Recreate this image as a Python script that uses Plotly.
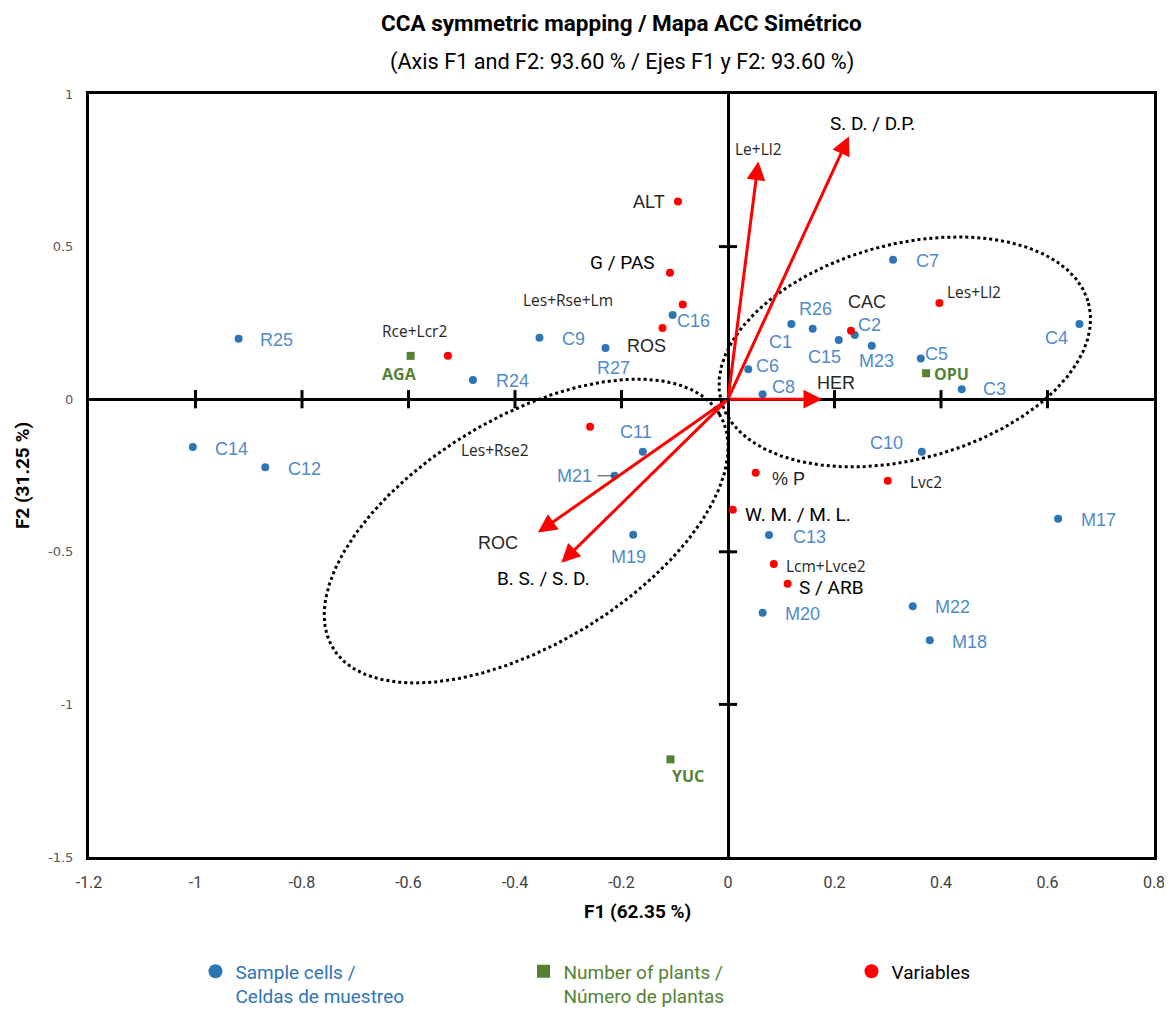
import numpy as np
import plotly.graph_objects as go

# ---------------- data ----------------
cell_names = ["R25", "C9", "R27", "R24", "C16", "C1", "R26", "C15", "C2", "M23", "C7", "C5", "C4", "C3",
              "C6", "C8", "C10", "C11", "M21", "M19", "C14", "C12", "C13", "M20", "M22", "M18", "M17"]
cell_f1 = [-0.919, -0.354, -0.230, -0.479, -0.104, 0.119, 0.159, 0.208, 0.238, 0.270, 0.310, 0.362, 0.660, 0.439,
           0.038, 0.065, 0.364, -0.160, -0.213, -0.178, -1.005, -0.869, 0.077, 0.065, 0.347, 0.379, 0.620]
cell_f2 = [0.198, 0.201, 0.168, 0.063, 0.276, 0.246, 0.231, 0.194, 0.210, 0.175, 0.457, 0.133, 0.246, 0.033,
           0.098, 0.016, -0.172, -0.172, -0.251, -0.444, -0.157, -0.223, -0.445, -0.700, -0.678, -0.790, -0.392]

plant_names = ["AGA", "OPU", "YUC"]
plant_f1 = [-0.596, 0.372, -0.108]
plant_f2 = [0.142, 0.085, -1.180]

var_names = ["ALT", "G / PAS", "Les+Rse+Lm", "ROS", "Rce+Lcr2", "Les+Rse2", "CAC", "Les+Ll2",
             "% P", "Lvc2", "W. M. / M. L.", "Lcm+Lvce2", "S / ARB"]
var_f1 = [-0.094, -0.109, -0.085, -0.123, -0.526, -0.259, 0.231, 0.397, 0.052, 0.300, 0.009, 0.086, 0.112]
var_f2 = [0.648, 0.414, 0.310, 0.233, 0.142, -0.090, 0.224, 0.315, -0.241, -0.267, -0.362, -0.540, -0.605]

arrow_names = ["Le+Ll2", "S. D. / D.P.", "HER", "ROC", "B. S. / S. D."]
arrow_f1 = [0.057, 0.227, 0.177, -0.357, -0.313]
arrow_f2 = [0.779, 0.861, 0.0, -0.437, -0.536]

x_ticks = [-1.2, -1.0, -0.8, -0.6, -0.4, -0.2, 0.0, 0.2, 0.4, 0.6, 0.8]
x_tick_text = ["-1.2", "-1", "-0.8", "-0.6", "-0.4", "-0.2", "0", "0.2", "0.4", "0.6", "0.8"]
y_ticks = [-1.5, -1.0, -0.5, 0.0, 0.5, 1.0]
y_tick_text = ["-1.5", "-1", "-0.5", "0", "0.5", "1"]

# ellipses: centre (F1, F2) and two conjugate semi-axis vectors
ell_right = dict(cx=0.332, cy=0.155, ux=0.345, uy=0.160, vx=0.052, vy=-0.341)
ell_left = dict(cx=-0.379, cy=-0.432, ux=0.363, uy=0.383, vx=0.110, vy=-0.318)

# ---------------- styles ----------------
BLUE_DOT = "#2E75B6"
BLUE_TXT = "#4F8BCB"
GREEN = "#548235"
RED = "#FF0000"
F_ARIAL = "Liberation Sans, Arial, sans-serif"
F_NARROW = "Roboto, Liberation Sans Narrow, sans-serif"
F_SMALL = "Open Sans, Noto Sans, sans-serif"

# label offsets in screen px (dx right, dy down) of text centre relative to the point
cell_off = {"R25": (38, 1), "C9": (34, 1), "R27": (8, 20), "R24": (40, 1), "C16": (21, 6), "C1": (-11, 18),
            "R26": (3, -20), "C15": (-14, 17), "C2": (15, -10), "M23": (5, 15), "C7": (34, 1), "C5": (16, -5),
            "C4": (-23, 14), "C3": (33, 0), "C6": (19, -3), "C8": (21, -7), "C10": (-35, -9), "C11": (-7, -20),
            "M19": (-5, 22), "C14": (39, 2), "C12": (39, 2), "C13": (40, 2), "M20": (40, 1), "M22": (40, 1),
            "M18": (40, 2), "M17": (40, 1)}
plant_off = {"AGA": (-11, 18), "OPU": (25, 1), "YUC": (18, 17)}
var_style = {"ALT": ((-29, 1), "a"), "G / PAS": ((-47, -10), "n"), "Les+Rse+Lm": ((-115, -5), "s"),
             "ROS": ((-16, 18), "a"), "Rce+Lcr2": ((-33, -25), "s"), "Les+Rse2": ((-95, 23), "s"),
             "CAC": ((16, -29), "a"), "Les+Ll2": ((35, -11), "s"), "% P": ((33, 6), "a"),
             "Lvc2": ((38, 1), "s"), "W. M. / M. L.": ((65, 5), "n"), "Lcm+Lvce2": ((52, 2), "s"),
             "S / ARB": ((44, 4), "n")}
arrow_style = {"Le+Ll2": ((0, -12), "s"), "S. D. / D.P.": ((24, -13), "n"), "HER": ((14, -16), "a"),
               "ROC": ((-40, 10), "a"), "B. S. / S. D.": ((-18, 16), "n")}
fonts = {"a": dict(family=F_ARIAL, size=18, color="#262626"),
         "n": dict(family=F_NARROW, size=19, color="#000000"),
         "s": dict(family=F_SMALL, size=15.5, color="#262626")}

fig = go.Figure()

# ellipses
t = np.linspace(0, 2 * np.pi, 400)
for e in (ell_right, ell_left):
    fig.add_trace(go.Scatter(
        x=e["cx"] + e["ux"] * np.cos(t) + e["vx"] * np.sin(t),
        y=e["cy"] + e["uy"] * np.cos(t) + e["vy"] * np.sin(t),
        mode="lines", line=dict(color="black", width=3, dash="dot"),
        showlegend=False, hoverinfo="skip"))

# tick marks on the zero lines
xt_in = [v for v in x_ticks if v != 0 and x_ticks[0] < v < x_ticks[-1]]
yt_in = [v for v in y_ticks if v != 0 and y_ticks[0] < v < y_ticks[-1]]
fig.add_trace(go.Scatter(x=xt_in, y=[0] * len(xt_in), mode="markers", showlegend=False, hoverinfo="skip",
                         marker=dict(symbol="line-ns", size=13, line=dict(width=3, color="black"))))
fig.add_trace(go.Scatter(x=[0] * len(yt_in), y=yt_in, mode="markers", showlegend=False, hoverinfo="skip",
                         marker=dict(symbol="line-ew", size=13, line=dict(width=3, color="black"))))

# points
fig.add_trace(go.Scatter(x=cell_f1, y=cell_f2, mode="markers", showlegend=False,
                         marker=dict(color=BLUE_DOT, size=8), text=cell_names))
fig.add_trace(go.Scatter(x=plant_f1, y=plant_f2, mode="markers", showlegend=False,
                         marker=dict(color=GREEN, size=8, symbol="square"), text=plant_names))
fig.add_trace(go.Scatter(x=var_f1, y=var_f2, mode="markers", showlegend=False,
                         marker=dict(color=RED, size=8), text=var_names))

# legend-only entries
fig.add_trace(go.Scatter(x=[None], y=[None], mode="markers", marker=dict(color=BLUE_DOT, size=14),
                         name="<span style='color:%s'>Sample cells /<br>Celdas de muestreo</span>" % BLUE_DOT))
fig.add_trace(go.Scatter(x=[None], y=[None], mode="markers", marker=dict(color=GREEN, size=13, symbol="square"),
                         name="<span style='color:%s'>Number of plants /<br>Número de plantas</span>" % GREEN))
fig.add_trace(go.Scatter(x=[None], y=[None], mode="markers", marker=dict(color=RED, size=14),
                         name="Variables"))

ann = []
# arrows
for n, x, y in zip(arrow_names, arrow_f1, arrow_f2):
    ann.append(dict(x=x, y=y, ax=0, ay=0, xref="x", yref="y", axref="x", ayref="y", text="",
                    showarrow=True, arrowhead=2, arrowsize=1.25, arrowwidth=3, arrowcolor=RED))
    (dx, dy), fk = arrow_style[n]
    ann.append(dict(x=x, y=y, xref="x", yref="y", text=n, showarrow=False, xshift=dx, yshift=-dy,
                    font=fonts[fk]))

for n, x, y in zip(cell_names, cell_f1, cell_f2):
    if n == "M21":
        ann.append(dict(x=x, y=y, xref="x", yref="y", text=n, showarrow=True, arrowhead=0, arrowwidth=1,
                        arrowcolor="#404040", ax=-40, ay=0, borderpad=5,
                        font=dict(family=F_ARIAL, size=18, color=BLUE_TXT)))
        continue
    dx, dy = cell_off[n]
    ann.append(dict(x=x, y=y, xref="x", yref="y", text=n, showarrow=False, xshift=dx, yshift=-dy,
                    font=dict(family=F_ARIAL, size=18, color=BLUE_TXT)))

for n, x, y in zip(plant_names, plant_f1, plant_f2):
    dx, dy = plant_off[n]
    ann.append(dict(x=x, y=y, xref="x", yref="y", text="<b>%s</b>" % n, showarrow=False, xshift=dx, yshift=-dy,
                    font=dict(family=F_SMALL, size=16, color=GREEN)))

for n, x, y in zip(var_names, var_f1, var_f2):
    (dx, dy), fk = var_style[n]
    ann.append(dict(x=x, y=y, xref="x", yref="y", text=n, showarrow=False, xshift=dx, yshift=-dy,
                    font=fonts[fk]))

# titles
ann.append(dict(x=0.5, y=1.0925, xref="paper", yref="paper", showarrow=False, yanchor="middle", borderpad=0,
                text="<b>CCA symmetric mapping / Mapa ACC Simétrico</b>",
                font=dict(family=F_NARROW, size=22.5, color="#000000")))
ann.append(dict(x=0.5, y=1.042, xref="paper", yref="paper", showarrow=False, yanchor="middle",
                text="(Axis F1 and F2: 93.60 % / Ejes F1 y F2: 93.60 %)",
                font=dict(family=F_NARROW, size=21.7, color="#000000")))
# x-axis title (sits slightly right of the plot centre in the original)
ann.append(dict(x=0.5146, y=-0.072, xref="paper", yref="paper", showarrow=False, yanchor="middle",
                text="<b>F1 (62.35 %)</b>", font=dict(family=F_NARROW, size=19, color="#000000")))

# the page body adds an 8 px offset; size and margins compensate for it
fig.update_layout(
    width=1164, height=1008,
    margin=dict(l=81, r=18, t=86, b=159, autoexpand=False),
    plot_bgcolor="white", paper_bgcolor="white",
    annotations=ann,
    showlegend=True,
    legend=dict(orientation="h", x=0.1, y=-0.125, xanchor="left", yanchor="top", valign="top",
                font=dict(family=F_NARROW, size=19, color="#000000"), entrywidth=283,
                bgcolor="rgba(0,0,0,0)"),
    xaxis=dict(range=[-1.2, 0.8], tickvals=x_ticks, ticktext=x_tick_text, showgrid=False,
               zeroline=True, zerolinecolor="black", zerolinewidth=3,
               showline=True, mirror=True, linecolor="black", linewidth=3, ticks="",
               ticklabelstandoff=9,
               tickfont=dict(family=F_NARROW, size=16, color="#404040")),
    yaxis=dict(range=[-1.5, 1.0], tickvals=y_ticks, ticktext=y_tick_text, showgrid=False,
               zeroline=True, zerolinecolor="black", zerolinewidth=3,
               showline=True, mirror=True, linecolor="black", linewidth=3, ticks="",
               ticklabelstandoff=10,
               tickfont=dict(family="DejaVu Sans, Verdana, sans-serif", size=13, color="#595959"),
               title=dict(text="<b>F2 (31.25 %)</b>", standoff=14,
                          font=dict(family=F_NARROW, size=19, color="#000000"))),
)

fig.write_html("out.html")
